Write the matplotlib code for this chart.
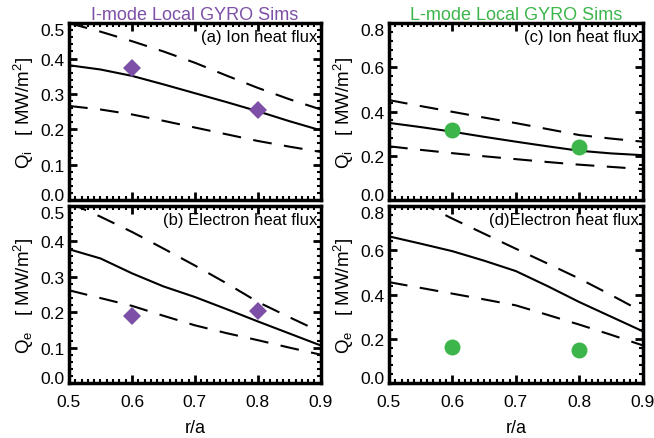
import numpy as np
import matplotlib
matplotlib.use("Agg")
import matplotlib.pyplot as plt
from matplotlib.ticker import AutoMinorLocator, FormatStrFormatter

plt.rcParams['font.family'] = ['Liberation Sans', 'DejaVu Sans']
plt.rcParams['mathtext.fontset'] = 'custom'
plt.rcParams['mathtext.rm'] = 'Liberation Sans'
plt.rcParams['mathtext.it'] = 'Liberation Sans'

purple = "#7d4fa6"
green = "#3cb54a"

r = [0.5, 0.55, 0.6, 0.65, 0.7, 0.75, 0.8, 0.85, 0.9]

# I-mode, ion heat flux (nominal, upper, lower) and GYRO points
qi_imode = [0.381, 0.369, 0.351, 0.327, 0.302, 0.277, 0.251, 0.223, 0.197]
qi_imode_hi = [0.500, 0.476, 0.449, 0.420, 0.388, 0.352, 0.317, 0.285, 0.256]
qi_imode_lo = [0.266, 0.256, 0.242, 0.224, 0.205, 0.186, 0.167, 0.151, 0.136]
gyro_qi_imode = [0.374, 0.254]

# I-mode, electron heat flux
qe_imode = [0.378, 0.352, 0.310, 0.273, 0.243, 0.209, 0.174, 0.140, 0.106]
qe_imode_hi = [0.510, 0.470, 0.427, 0.380, 0.332, 0.282, 0.229, 0.186, 0.144]
qe_imode_lo = [0.262, 0.240, 0.218, 0.190, 0.163, 0.141, 0.121, 0.100, 0.080]
gyro_qe_imode = [0.189, 0.204]

# L-mode, ion heat flux
qi_lmode = [0.349, 0.330, 0.309, 0.286, 0.264, 0.243, 0.223, 0.211, 0.203]
qi_lmode_hi = [0.452, 0.425, 0.399, 0.373, 0.348, 0.321, 0.294, 0.278, 0.264]
qi_lmode_lo = [0.243, 0.227, 0.212, 0.198, 0.185, 0.172, 0.160, 0.150, 0.140]
gyro_qi_lmode = [0.316, 0.238]

# L-mode, electron heat flux
qe_lmode = [0.663, 0.630, 0.596, 0.553, 0.506, 0.438, 0.366, 0.300, 0.234]
qe_lmode_hi = [0.880, 0.815, 0.743, 0.675, 0.607, 0.540, 0.472, 0.398, 0.321]
qe_lmode_lo = [0.456, 0.430, 0.404, 0.378, 0.351, 0.308, 0.264, 0.218, 0.170]
gyro_qe_lmode = [0.161, 0.148]

r_gyro = [0.6, 0.8]

fig = plt.figure(figsize=(6.54, 4.39), dpi=100)
ax_a = fig.add_axes([0.1055, 0.542, 0.385, 0.403])
ax_b = fig.add_axes([0.1055, 0.1253, 0.385, 0.403])
ax_c = fig.add_axes([0.5948, 0.542, 0.388, 0.403])
ax_d = fig.add_axes([0.5948, 0.1253, 0.388, 0.403])

panels = [
    (ax_a, qi_imode, qi_imode_hi, qi_imode_lo, gyro_qi_imode, purple, "D", 0.5, 0.1, "(a) Ion heat flux", r"Q$_\mathrm{i}$   [ MW/m$^2$]"),
    (ax_b, qe_imode, qe_imode_hi, qe_imode_lo, gyro_qe_imode, purple, "D", 0.5, 0.1, "(b) Electron heat flux", r"Q$_\mathrm{e}$   [ MW/m$^2$]"),
    (ax_c, qi_lmode, qi_lmode_hi, qi_lmode_lo, gyro_qi_lmode, green, "o", 0.8, 0.2, "(c) Ion heat flux", r"Q$_\mathrm{i}$   [ MW/m$^2$]"),
    (ax_d, qe_lmode, qe_lmode_hi, qe_lmode_lo, gyro_qe_lmode, green, "o", 0.8, 0.2, "(d)Electron heat flux", r"Q$_\mathrm{e}$   [ MW/m$^2$]"),
]

for ax, mid, hi, lo, pts, col, mk, ymax, ystep, tag, ylab in panels:
    ax.plot(r, mid, color="black", lw=1.5)
    ax.plot(r, hi, color="black", lw=1.5, dashes=(9, 6))
    ax.plot(r, lo, color="black", lw=1.5, dashes=(9, 6))
    ax.plot(r_gyro, pts, linestyle="none", marker=mk, color=col,
            markersize=9.5 if mk == "D" else 11.5, markeredgewidth=0,
            clip_on=False, zorder=3)
    ax.set_xlim(0.5, 0.9)
    ax.set_ylim(0, ymax)
    ax.set_xticks(np.arange(0.5, 0.91, 0.1))
    ax.set_yticks(np.arange(0, ymax + 1e-6, ystep))
    ax.xaxis.set_minor_locator(AutoMinorLocator(10))
    ax.yaxis.set_minor_locator(AutoMinorLocator(5))
    ax.yaxis.set_major_formatter(FormatStrFormatter("%.1f"))
    ax.xaxis.set_major_formatter(FormatStrFormatter("%.1f"))
    ax.tick_params(which="both", direction="in", top=True, right=True, labelsize=12.5, width=2)
    ax.tick_params(axis="x", which="major", pad=8)
    ax.tick_params(which="major", length=6)
    ax.tick_params(which="minor", length=3, width=1.5)
    for s in ax.spines.values():
        s.set_linewidth(2.5)
    # pull the end labels inward so stacked panels don't collide
    ylabels = ax.get_yticklabels()
    ylabels[0].set_verticalalignment("baseline")
    ylabels[-1].set_verticalalignment("top")
    ax.text(0.985, 0.965, tag, transform=ax.transAxes, ha="right", va="top", fontsize=12)
    ax.set_ylabel(ylab, fontsize=13.5, labelpad=3)

for ax in (ax_a, ax_c):
    ax.tick_params(labelbottom=False)
for ax in (ax_b, ax_d):
    ax.set_xlabel("r/a", fontsize=13, labelpad=7)

ax_a.set_title("I-mode Local GYRO Sims", color=purple, fontsize=13, pad=3)
ax_c.set_title("L-mode Local GYRO Sims", color=green, fontsize=13, pad=3)

fig.savefig("out.png", dpi=100)
plt.close(fig)
